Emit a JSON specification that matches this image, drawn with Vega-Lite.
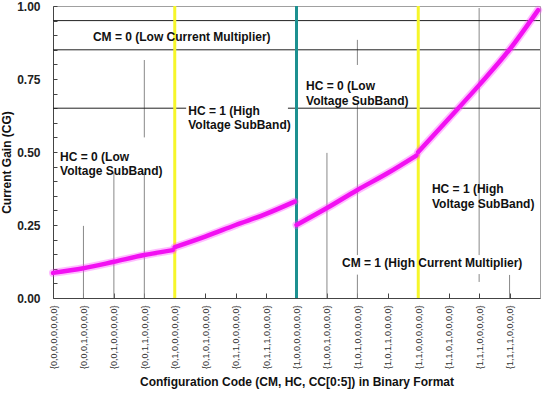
{
  "$schema": "https://vega.github.io/schema/vega-lite/v6.json",
  "width": 487,
  "height": 292,
  "autosize": {"type": "none"},
  "padding": {"left": 53, "top": 6, "right": 4, "bottom": 96},
  "background": "white",
  "config": {
    "font": "Liberation Sans",
    "view": {"stroke": "#a0a0a0", "strokeWidth": 1}
  },
  "datasets": {
    "curve": [
      {"x": 0, "y": 0.086, "seg": "a"}, {"x": 16, "y": 0.102, "seg": "a"}, {"x": 32, "y": 0.124, "seg": "a"}, {"x": 48, "y": 0.147, "seg": "a"}, {"x": 63, "y": 0.164, "seg": "a"},
      {"x": 64, "y": 0.174, "seg": "b"}, {"x": 80, "y": 0.21, "seg": "b"}, {"x": 96, "y": 0.25, "seg": "b"}, {"x": 112, "y": 0.288, "seg": "b"}, {"x": 127, "y": 0.33, "seg": "b"},
      {"x": 128, "y": 0.25, "seg": "c"}, {"x": 144, "y": 0.308, "seg": "c"}, {"x": 160, "y": 0.37, "seg": "c"}, {"x": 176, "y": 0.428, "seg": "c"}, {"x": 191, "y": 0.488, "seg": "c"},
      {"x": 192, "y": 0.5, "seg": "d"}, {"x": 208, "y": 0.614, "seg": "d"}, {"x": 224, "y": 0.729, "seg": "d"}, {"x": 240, "y": 0.851, "seg": "d"}, {"x": 255, "y": 0.986, "seg": "d"}
    ],
    "hlines": [
      {"y": 0.95, "x": 0, "x2": 256},
      {"y": 0.85, "x": 0, "x2": 256},
      {"y": 0.65, "x": 0, "x2": 70},
      {"y": 0.65, "x": 123.5, "x2": 256}
    ],
    "vlines": [
      {"x": 16, "y": 0, "y2": 0.247},
      {"x": 32, "y": 0, "y2": 0.432},
      {"x": 48, "y": 0, "y2": 0.432},
      {"x": 48, "y": 0.55, "y2": 0.815},
      {"x": 144, "y": 0, "y2": 0.497},
      {"x": 160, "y": 0.798, "y2": 0.884},
      {"x": 160, "y": 0.147, "y2": 0.668},
      {"x": 160, "y": 0, "y2": 0.08},
      {"x": 224, "y": 0.147, "y2": 0.993},
      {"x": 224, "y": 0.055, "y2": 0.082},
      {"x": 240, "y": 0, "y2": 0.079}
    ],
    "yellow": [
      {"x": 64, "y": 0, "y2": 1},
      {"x": 192, "y": 0, "y2": 1}
    ],
    "teal": [
      {"x": 128, "y": 0, "y2": 1}
    ],
    "notes": [
      {"x": 21, "y": 0.894, "label": "CM = 0 (Low Current Multiplier)"},
      {"x": 71.1, "y": 0.642, "label": "HC = 1 (High\nVoltage SubBand)"},
      {"x": 3.7, "y": 0.483, "label": "HC = 0 (Low\nVoltage SubBand)"},
      {"x": 133, "y": 0.726, "label": "HC = 0 (Low\nVoltage SubBand)"},
      {"x": 199.2, "y": 0.373, "label": "HC = 1 (High\nVoltage SubBand)"},
      {"x": 151.9, "y": 0.12, "label": "CM = 1 (High Current Multiplier)"}
    ]
  },
  "encoding": {
    "x": {
      "field": "x",
      "type": "quantitative",
      "scale": {"domain": [0, 256], "nice": false, "zero": false},
      "axis": {
        "title": "Configuration Code (CM, HC, CC[0:5]) in Binary Format",
        "titleFont": "Liberation Sans",
        "titleFontSize": 12,
        "titleFontWeight": "bold",
        "titleColor": "#111",
        "titlePadding": 8,
        "values": [0, 16, 32, 48, 64, 80, 96, 112, 128, 144, 160, 176, 192, 208, 224, 240],
        "labelExpr": "['{0,0,0,0,0,0,0,0}','{0,0,0,1,0,0,0,0}','{0,0,1,0,0,0,0,0}','{0,0,1,1,0,0,0,0}','{0,1,0,0,0,0,0,0}','{0,1,0,1,0,0,0,0}','{0,1,1,0,0,0,0,0}','{0,1,1,1,0,0,0,0}','{1,0,0,0,0,0,0,0}','{1,0,0,1,0,0,0,0}','{1,0,1,0,0,0,0,0}','{1,0,1,1,0,0,0,0}','{1,1,0,0,0,0,0,0}','{1,1,0,1,0,0,0,0}','{1,1,1,0,0,0,0,0}','{1,1,1,1,0,0,0,0}'][round(datum.value/16)]",
        "labelAngle": -90,
        "labelFontSize": 9,
        "labelColor": "#333",
        "labelPadding": 12,
        "labelFlush": false,
        "labelOverlap": false,
        "labelBound": false,
        "grid": false,
        "tickSize": -5,
        "tickColor": "#444",
        "domainColor": "#444"
      }
    },
    "y": {
      "field": "y",
      "type": "quantitative",
      "scale": {"domain": [0, 1], "nice": false},
      "axis": {
        "title": "Current Gain (CG)",
        "titleFont": "Liberation Sans",
        "titleFontSize": 12,
        "titleFontWeight": "bold",
        "titleColor": "#111",
        "titlePadding": 3,
        "titleY": 156,
        "values": [0, 0.05, 0.1, 0.15, 0.2, 0.25, 0.3, 0.35, 0.4, 0.45, 0.5, 0.55, 0.6, 0.65, 0.7, 0.75, 0.8, 0.85, 0.9, 0.95, 1],
        "labelExpr": "abs(datum.value * 4 - round(datum.value * 4)) < 0.001 ? format(datum.value, '.2f') : ''",
        "labelFontSize": 12,
        "labelFontWeight": "bold",
        "labelColor": "#222",
        "labelPadding": 17,
        "labelFlush": false,
        "labelOverlap": false,
        "grid": false,
        "tickSize": -4,
        "tickColor": "#444",
        "domainColor": "#444"
      }
    }
  },
  "layer": [
    {
      "data": {"name": "vlines"},
      "mark": {"type": "rule", "color": "#888", "strokeWidth": 1},
      "encoding": {"y2": {"field": "y2"}}
    },
    {
      "data": {"name": "hlines"},
      "mark": {"type": "rule", "color": "#222", "strokeWidth": 1},
      "encoding": {"x2": {"field": "x2"}}
    },
    {
      "data": {"name": "yellow"},
      "mark": {"type": "rule", "color": "#f6f62a", "strokeWidth": 3},
      "encoding": {"y2": {"field": "y2"}}
    },
    {
      "data": {"name": "teal"},
      "mark": {"type": "rule", "color": "#1c9090", "strokeWidth": 3},
      "encoding": {"y2": {"field": "y2"}}
    },
    {
      "data": {"name": "curve"},
      "mark": {"type": "line", "color": "#ff40ff", "strokeWidth": 8, "opacity": 0.35, "strokeCap": "round", "interpolate": "monotone"},
      "encoding": {"detail": {"field": "seg"}}
    },
    {
      "data": {"name": "curve"},
      "mark": {"type": "line", "color": "#f210f2", "strokeWidth": 4.5, "strokeCap": "round", "interpolate": "monotone"},
      "encoding": {"detail": {"field": "seg"}}
    },
    {
      "data": {"name": "notes"},
      "mark": {"type": "text", "align": "left", "baseline": "middle", "lineBreak": "\n", "lineHeight": 14.5, "font": "Liberation Sans", "fontSize": 12, "fontWeight": "bold", "color": "#111"},
      "encoding": {"text": {"field": "label"}}
    }
  ]
}
